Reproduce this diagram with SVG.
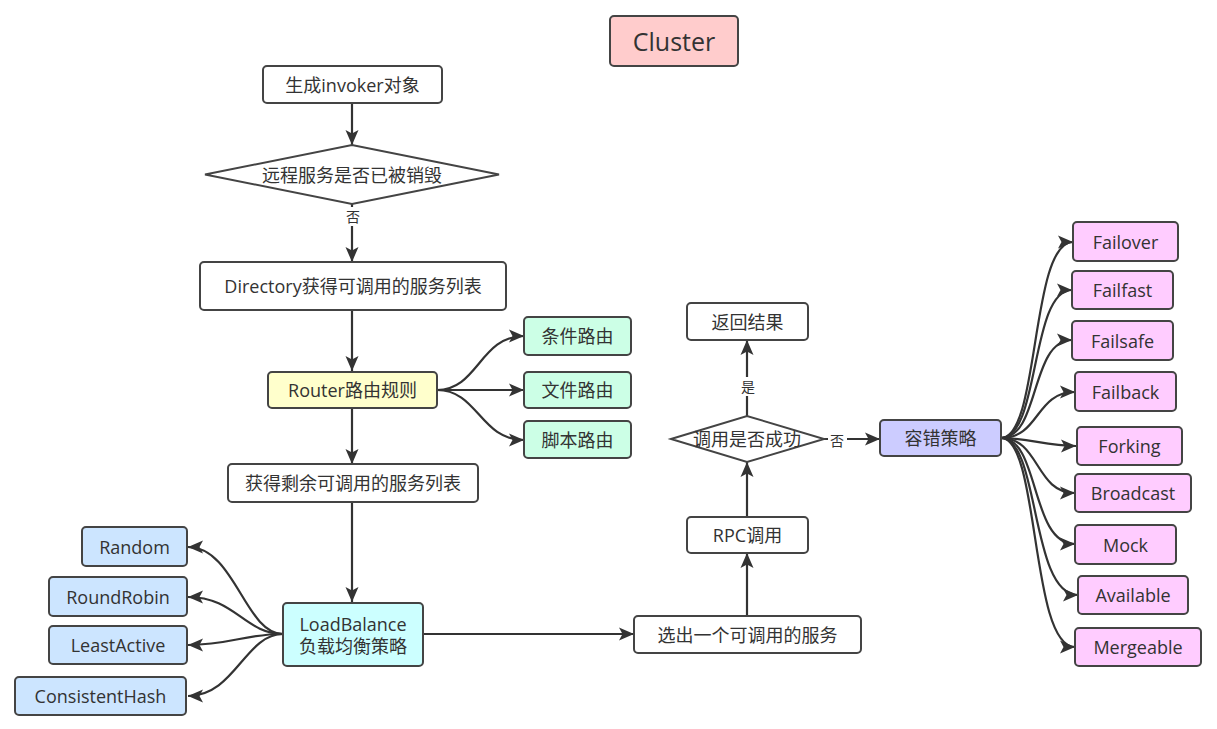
<svg xmlns="http://www.w3.org/2000/svg" width="1217" height="729" viewBox="0 0 1217 729">
<style>
.n{stroke:#444;stroke-width:2}
.t{font-family:"Open Sans","Noto Sans CJK SC",sans-serif;font-size:18px;fill:#333;text-anchor:middle;dominant-baseline:central}
.s{font-family:"Noto Sans CJK SC",sans-serif;font-size:14px;fill:#333;text-anchor:middle;dominant-baseline:central}
.c{fill:none;stroke:#333;stroke-width:2.2;marker-end:url(#a)}
.w{fill:#fff}
</style>
<defs>
<marker id="a" markerUnits="userSpaceOnUse" markerWidth="16" markerHeight="14" refX="15" refY="7" orient="auto">
<path d="M0,0.5 L15,7 L0,13.5 L3.5,7 z" fill="#333"/>
</marker>
</defs>
<rect width="1217" height="729" fill="#fff"/>
<g id="connectors">
<path class="c" d="M352,104 V145"/>
<path class="c" d="M352,204 V262"/>
<path class="c" d="M352,310 V371"/>
<path class="c" d="M352,408 V464"/>
<path class="c" d="M352,502 V602"/>
<path class="c" d="M437,390 C478,390 480,336 524,336"/>
<path class="c" d="M437,390 H524"/>
<path class="c" d="M437,390 C478,390 480,440 524,440"/>
<path class="c" d="M283,634 C245,634 235,547 188,547"/>
<path class="c" d="M283,634 C245,634 235,597 188,597"/>
<path class="c" d="M283,634 C245,634 230,645 188,645"/>
<path class="c" d="M283,634 C245,634 235,696 188,696"/>
<path class="c" d="M423,634 H634"/>
<path class="c" d="M747,616 V553"/>
<path class="c" d="M747,517 V462"/>
<path class="c" d="M747,416 V340"/>
<path class="c" d="M824,439 H880"/>
<path class="c" d="M1001,438 C1040,438 1030,242 1073,242"/>
<path class="c" d="M1001,438 C1040,438 1030,290 1072,290"/>
<path class="c" d="M1001,438 C1040,438 1030,340 1072,340"/>
<path class="c" d="M1001,438 C1040,438 1035,392 1075,392"/>
<path class="c" d="M1001,438 C1030,438 1045,446 1076,446"/>
<path class="c" d="M1001,438 C1040,438 1035,493 1075,493"/>
<path class="c" d="M1001,438 C1040,438 1030,544 1075,544"/>
<path class="c" d="M1001,438 C1040,438 1030,595 1078,595"/>
<path class="c" d="M1001,438 C1040,438 1030,647 1075,647"/>
<rect class="w" x="344" y="207" width="18" height="19"/>
<text class="s" x="353" y="216">否</text>
<rect class="w" x="739" y="377" width="18" height="19"/>
<text class="s" x="748" y="386">是</text>
<rect class="w" x="828" y="431" width="19" height="19"/>
<text class="s" x="837" y="440">否</text>
</g>
<g id="cluster"><rect class="n" x="610" y="16" width="128" height="50" rx="4" fill="#ffcccc"/><text class="t" x="674" y="41" style="font-size:25px">Cluster</text></g>
<g id="invoker"><rect class="n" x="263" y="66" width="179" height="37" rx="4" fill="#fff"/><text class="t" x="352.5" y="85">生成invoker对象</text></g>
<g id="destroyed"><polygon class="n" points="205,174.5 352,145 499,174.5 352,204" fill="#fff"/><text class="t" x="352" y="175">远程服务是否已被销毁</text></g>
<g id="directory"><rect class="n" x="200" y="262" width="306" height="48" rx="4" fill="#fff"/><text class="t" x="353" y="286">Directory获得可调用的服务列表</text></g>
<g id="router"><rect class="n" x="268" y="372" width="169" height="36" rx="4" fill="#ffffcc"/><text class="t" x="352.5" y="390">Router路由规则</text></g>
<g id="r1"><rect class="n" x="524" y="317" width="107" height="38" rx="4" fill="#ccffe6"/><text class="t" x="577.5" y="336">条件路由</text></g>
<g id="r2"><rect class="n" x="524" y="372" width="107" height="36" rx="4" fill="#ccffe6"/><text class="t" x="577.5" y="390">文件路由</text></g>
<g id="r3"><rect class="n" x="524" y="421" width="107" height="37" rx="4" fill="#ccffe6"/><text class="t" x="577.5" y="439.5">脚本路由</text></g>
<g id="remaining"><rect class="n" x="228" y="464" width="250" height="38" rx="4" fill="#fff"/><text class="t" x="353" y="483">获得剩余可调用的服务列表</text></g>
<g id="loadbalance"><rect class="n" x="283" y="603" width="140" height="63" rx="4" fill="#ccffff"/><text class="t" x="353" y="624">LoadBalance</text><text class="t" x="353" y="646">负载均衡策略</text></g>
<g id="random"><rect class="n" x="82" y="527" width="105" height="39" rx="4" fill="#cce5ff"/><text class="t" x="134.5" y="546.5">Random</text></g>
<g id="roundrobin"><rect class="n" x="49" y="577" width="138" height="39" rx="4" fill="#cce5ff"/><text class="t" x="118" y="596.5">RoundRobin</text></g>
<g id="leastactive"><rect class="n" x="49" y="626" width="138" height="38" rx="4" fill="#cce5ff"/><text class="t" x="118" y="645">LeastActive</text></g>
<g id="consistenthash"><rect class="n" x="15" y="677" width="171" height="38" rx="4" fill="#cce5ff"/><text class="t" x="100.5" y="696">ConsistentHash</text></g>
<g id="select"><rect class="n" x="634" y="616" width="227" height="37" rx="4" fill="#fff"/><text class="t" x="747.5" y="634.5">选出一个可调用的服务</text></g>
<g id="rpc"><rect class="n" x="687" y="517" width="121" height="36" rx="4" fill="#fff"/><text class="t" x="747.5" y="535">RPC调用</text></g>
<g id="success"><polygon class="n" points="671,439 747,416 824,439 747,462" fill="#fff"/><text class="t" x="747" y="439">调用是否成功</text></g>
<g id="result"><rect class="n" x="687" y="303" width="121" height="37" rx="4" fill="#fff"/><text class="t" x="747.5" y="321.5">返回结果</text></g>
<g id="faulttolerance"><rect class="n" x="880" y="420" width="121" height="36" rx="4" fill="#ccccff"/><text class="t" x="940.5" y="438">容错策略</text></g>
<g id="failover"><rect class="n" x="1073" y="222" width="105" height="39" rx="4" fill="#ffccff"/><text class="t" x="1125.5" y="241.5">Failover</text></g>
<g id="failfast"><rect class="n" x="1072" y="271" width="101" height="38" rx="4" fill="#ffccff"/><text class="t" x="1122.5" y="290">Failfast</text></g>
<g id="failsafe"><rect class="n" x="1072" y="321" width="101" height="39" rx="4" fill="#ffccff"/><text class="t" x="1122.5" y="340.5">Failsafe</text></g>
<g id="failback"><rect class="n" x="1075" y="372" width="101" height="39" rx="4" fill="#ffccff"/><text class="t" x="1125.5" y="391.5">Failback</text></g>
<g id="forking"><rect class="n" x="1077" y="427" width="105" height="38" rx="4" fill="#ffccff"/><text class="t" x="1129.5" y="446">Forking</text></g>
<g id="broadcast"><rect class="n" x="1075" y="474" width="116" height="38" rx="4" fill="#ffccff"/><text class="t" x="1133" y="493">Broadcast</text></g>
<g id="mock"><rect class="n" x="1075" y="525" width="101" height="39" rx="4" fill="#ffccff"/><text class="t" x="1125.5" y="544.5">Mock</text></g>
<g id="available"><rect class="n" x="1078" y="576" width="110" height="38" rx="4" fill="#ffccff"/><text class="t" x="1133" y="595">Available</text></g>
<g id="mergeable"><rect class="n" x="1075" y="628" width="126" height="38" rx="4" fill="#ffccff"/><text class="t" x="1138" y="647">Mergeable</text></g>
</svg>
